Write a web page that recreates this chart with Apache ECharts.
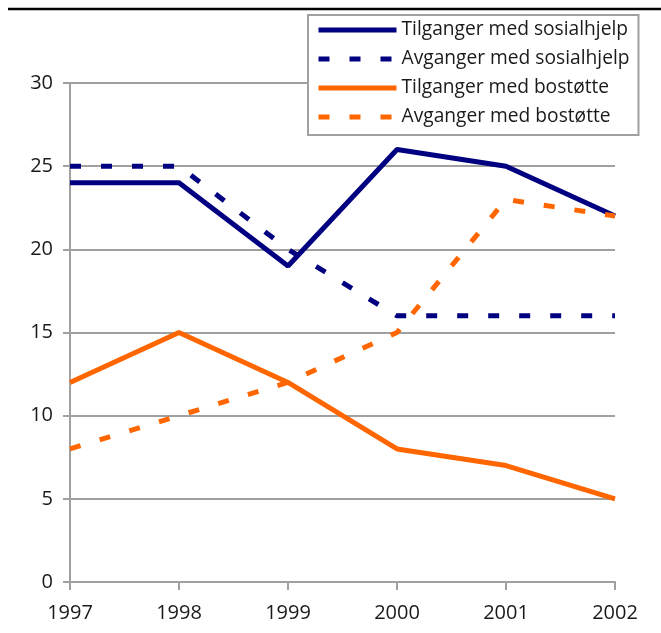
<!DOCTYPE html>
<html>
<head>
<meta charset="utf-8">
<script src="https://cdn.jsdelivr.net/npm/echarts@6/dist/echarts.min.js"></script>
<style>
  html, body { margin: 0; padding: 0; background: #fff; }
  #chart { width: 661px; height: 633px; }
</style>
</head>
<body>
<div id="chart"></div>
<script>
const years = ["1997", "1998", "1999", "2000", "2001", "2002"];
const tilgangSosial = [24, 24, 19, 26, 25, 22];
const avgangSosial = [25, 25, 20, 16, 16, 16];
const tilgangBost = [12, 15, 12, 8, 7, 5];
const avgangBost = [8, 10, 12, 15, 23, 22];

const navy = "#000080";
const orange = "#ff6600";
const axisGray = "#a0a0a0";
const textColor = "#1a1a1a";
const font = "'Open Sans', 'Noto Sans', sans-serif";

function makeSeries(name, data, color, dashed) {
  return {
    name: name,
    type: "line",
    data: data,
    symbol: "none",
    z: dashed ? 3 : 2,
    lineStyle: {
      color: color,
      width: 5,
      type: dashed ? [11, 20] : "solid",
      cap: "butt",
    },
    itemStyle: { color: color },
  };
}

const chart = echarts.init(document.getElementById("chart"));
chart.setOption({
  animation: false,
  backgroundColor: "#fff",
  textStyle: { fontFamily: font },
  grid: { left: 70, right: 46, top: 83, bottom: 51, containLabel: false },
  graphic: [
    {
      type: "line",
      shape: { x1: 8, y1: 9, x2: 661, y2: 9 },
      style: { stroke: "#000", lineWidth: 2.5 },
    },
  ],
  legend: {
    orient: "vertical",
    left: 308,
    top: 15,
    padding: [5, 9, 8, 8],
    backgroundColor: "#fff",
    borderColor: axisGray,
    borderWidth: 2,
    itemWidth: 78,
    itemHeight: 20,
    itemGap: 9,
    z: 10,
    itemStyle: { opacity: 0 },
    lineStyle: { width: 5 },
    textStyle: { fontFamily: font, fontSize: 19.2, lineHeight: 20, color: textColor },
    data: [
      "Tilganger med sosialhjelp",
      "Avganger med sosialhjelp",
      "Tilganger med bostøtte",
      "Avganger med bostøtte",
    ],
  },
  xAxis: {
    type: "category",
    data: years,
    boundaryGap: false,
    axisLine: { lineStyle: { color: axisGray, width: 2 } },
    axisTick: { show: true, length: 8, lineStyle: { color: axisGray, width: 2 } },
    axisLabel: { color: textColor, fontSize: 20, margin: 21, fontFamily: font },
    splitLine: { show: false },
  },
  yAxis: {
    type: "value",
    min: 0,
    max: 30,
    interval: 5,
    axisLine: { show: true, lineStyle: { color: axisGray, width: 2 } },
    axisTick: { show: true, length: 7, lineStyle: { color: axisGray, width: 2 } },
    axisLabel: { color: textColor, fontSize: 20, margin: 17, fontFamily: font },
    splitLine: { show: true, lineStyle: { color: axisGray, width: 2 } },
  },
  series: [
    makeSeries("Tilganger med sosialhjelp", tilgangSosial, navy, false),
    makeSeries("Avganger med sosialhjelp", avgangSosial, navy, true),
    makeSeries("Tilganger med bostøtte", tilgangBost, orange, false),
    makeSeries("Avganger med bostøtte", avgangBost, orange, true),
  ],
});
</script>
</body>
</html>
